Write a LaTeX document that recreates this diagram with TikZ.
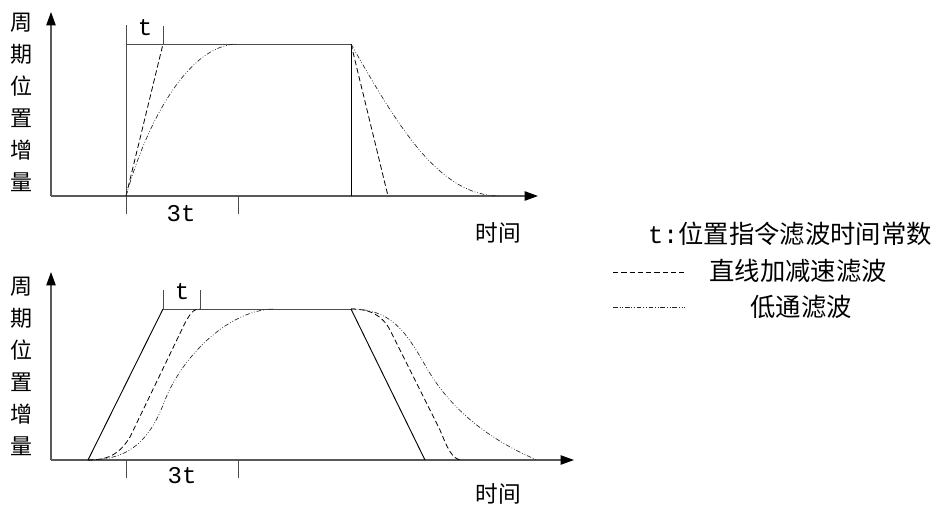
\documentclass[tikz,border=0pt]{standalone}
\usepackage{fontspec}
\newfontfamily\cjk{Noto Sans CJK SC}
\newfontfamily\lat{Liberation Mono}
\usetikzlibrary{arrows.meta}
\tikzset{
  axis/.style={draw=black!65,line width=0.9pt,-{Triangle[length=10pt,width=7pt,color=black]}},
  frame/.style={draw=black!70,line width=0.7pt},
  solidcurve/.style={draw=black,line width=0.7pt},
  dashcurve/.style={draw=black,line width=0.6pt,dash pattern=on 4pt off 2.2pt},
  dotcurve/.style={draw=black!85,line width=0.5pt,dash pattern=on 3.5pt off 1.4pt on 0.6pt off 1.4pt on 0.6pt off 1.4pt},
  ylab/.style={font=\cjk\fontsize{16.5}{24}\selectfont,align=center,inner sep=0pt},
  tlab/.style={font=\cjk\fontsize{17}{20}\selectfont,inner sep=0pt},
  numlab/.style={font=\lat\fontsize{18}{20}\selectfont,inner sep=0pt},
  leglab/.style={font=\cjk\fontsize{19}{22}\selectfont,inner sep=0pt}
}
\begin{document}
\begin{tikzpicture}[x=0.75pt,y=-0.75pt]
\useasboundingbox (0,0) rectangle (937,511);
% ---------------- top chart ----------------
\coordinate (o1) at (51,196);
\draw[axis] (o1) -- (51,12);
\draw[axis] (o1) -- (538,196);
\node[ylab] (yl1) at (21,102) {周\\期\\位\\置\\增\\量};
\node[tlab] (tx1) at (498,233) {时间};
\draw[frame] (126,25) -- (126,214);
\draw[frame] (126,44) -- (351,44);
\draw[solidcurve] (351,44) -- (351,196);
\draw[frame] (163,26) -- (163,44);
\draw[frame] (238,196) -- (238,214);
\node[numlab] (t1) at (145,28) {t};
\node[numlab] (tt1) at (181,214) {3t};
\draw[dashcurve] (126,196) -- (163,44);
\draw[dashcurve] (351,44) -- (388,196);
\draw[dotcurve] (126,196) .. controls (148,118) and (190,44) .. (238,44);
\draw[dotcurve] (351,44) .. controls (400,130) and (440,196) .. (500,196);
% ---------------- bottom chart ----------------
\coordinate (o2) at (51,460);
\draw[axis] (o2) -- (51,272);
\draw[axis] (o2) -- (574,460);
\node[ylab] (yl2) at (21,366) {周\\期\\位\\置\\增\\量};
\node[tlab] (tx2) at (498,494) {时间};
\draw[solidcurve] (88,460) -- (163,309);
\draw[frame] (163,309) -- (351,309);
\draw[solidcurve] (351,309) -- (425,460);
\draw[frame] (163,290) -- (163,309);
\draw[frame] (200,290) -- (200,309);
\draw[frame] (126,460) -- (126,478);
\draw[frame] (238,460) -- (238,478);
\node[numlab] (t2) at (182,292) {t};
\node[numlab] (tt2) at (182,476) {3t};
\draw[dashcurve] (88,460) .. controls (110,460) and (120,453) .. (130,437) -- (185,323) .. controls (192,310) and (195,309) .. (200,309);
\draw[dotcurve] (88,460) .. controls (130,460) and (150,440) .. (165,400) .. controls (183,355) and (230,309) .. (275,309);
\draw[dashcurve] (351,309) .. controls (370,309) and (382,315) .. (390,330) -- (440,430) .. controls (447,447) and (452,460) .. (462,460);
\draw[dotcurve] (351,309) .. controls (390,309) and (405,330) .. (425,365) .. controls (450,410) and (490,440) .. (537,460);
% ---------------- legend ----------------
\node[leglab,anchor=east] (lg1) at (932,234) {{\lat t:}位置指令滤波时间常数};
\coordinate (d1a) at (613,272);
\coordinate (d1b) at (685,272);
\draw[dashcurve,line width=0.5pt] (d1a) -- (d1b);
\node[leglab] (lg2) at (798,271) {直线加减速滤波};
\coordinate (d2a) at (613,307);
\coordinate (d2b) at (685,307);
\draw[dotcurve] (d2a) -- (d2b);
\node[leglab] (lg3) at (801,307) {低通滤波};
\end{tikzpicture}
\end{document}
